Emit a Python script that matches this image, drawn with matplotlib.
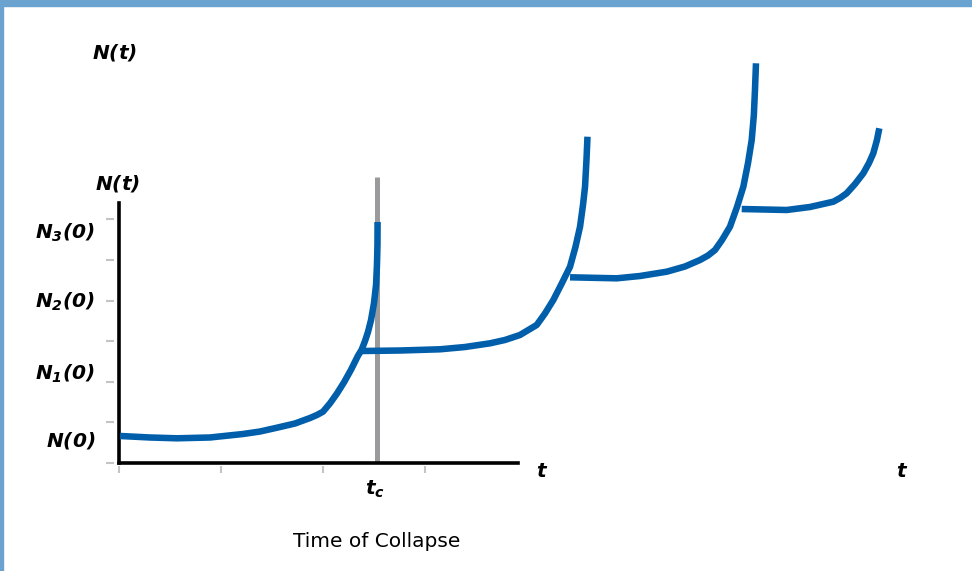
import matplotlib
matplotlib.use("Agg")
import matplotlib.pyplot as plt
from matplotlib.patches import Rectangle

plt.rcParams['font.family'] = ['DejaVu Sans']
plt.rcParams['mathtext.fontset'] = 'custom'
plt.rcParams['mathtext.it'] = 'DejaVu Sans:italic:bold'
plt.rcParams['mathtext.rm'] = 'DejaVu Sans:italic:bold'
plt.rcParams['mathtext.bf'] = 'DejaVu Sans:italic:bold'

# ---- data (time units on x, N units on y) ----
seg1_t = [0.010, 0.304, 0.569, 0.892, 1.216, 1.382, 1.549, 1.725, 1.873, 1.941,
          2.000, 2.069, 2.137, 2.206, 2.275, 2.343, 2.379, 2.412, 2.441, 2.471,
          2.500, 2.520, 2.529, 2.534, 2.535]
seg1_n = [0.665, 0.628, 0.608, 0.628, 0.714, 0.775, 0.869, 0.972, 1.108, 1.182,
          1.263, 1.470, 1.711, 1.986, 2.297, 2.641, 2.789, 3.003, 3.225, 3.520,
          3.938, 4.382, 4.874, 5.366, 5.932]

seg2_t = [2.379, 2.755, 3.147, 3.392, 3.637, 3.784, 3.931, 4.095, 4.176, 4.258,
          4.338, 4.422, 4.475, 4.520, 4.549, 4.569, 4.583, 4.593]
seg2_n = [2.757, 2.769, 2.799, 2.855, 2.946, 3.028, 3.151, 3.397, 3.680, 4.012,
          4.406, 4.832, 5.317, 5.817, 6.351, 6.801, 7.458, 8.032]

seg3_t = [4.422, 4.879, 5.108, 5.370, 5.549, 5.696, 5.775, 5.843, 5.912, 5.990,
          6.059, 6.121, 6.167, 6.203, 6.224, 6.235, 6.245]
seg3_n = [4.571, 4.546, 4.603, 4.709, 4.837, 4.997, 5.108, 5.243, 5.489, 5.817,
          6.302, 6.801, 7.385, 7.951, 8.566, 9.182, 9.839]

seg4_t = [6.105, 6.546, 6.775, 7.003, 7.069, 7.134, 7.216, 7.297, 7.353, 7.395,
          7.431, 7.454]
seg4_n = [6.252, 6.228, 6.302, 6.432, 6.523, 6.639, 6.868, 7.131, 7.385, 7.623,
          7.951, 8.239]

segments = [(seg1_t, seg1_n), (seg2_t, seg2_n), (seg3_t, seg3_n), (seg4_t, seg4_n)]

t_collapse = 2.53
collapse_line_top = 7.04

x_ticks = [0, 1, 2, 3]
y_ticks = [0, 1, 2, 3, 4, 5, 6]
y_labels = [r'$N(0)$', r'$N_1(0)$', r'$N_2(0)$', r'$N_3(0)$']
y_label_pos = [0.40, 2.04, 3.82, 5.53]

BLUE = '#005eaa'
GRAY = '#9a9a9c'
TICK = '#c4c4c4'
FRAME = '#6ba3d0'

# ---- figure ----
fig = plt.figure(figsize=(9.72, 5.71), dpi=100)
fig.patches.append(Rectangle((0, 1 - 6 / 571), 1, 6 / 571, transform=fig.transFigure,
                             color=FRAME, zorder=0))
fig.patches.append(Rectangle((0, 0), 3 / 972, 1, transform=fig.transFigure,
                             color=FRAME, zorder=0))

ax = fig.add_axes([119 / 972, 108 / 571, 399 / 972, 260 / 571])
ax.set_xlim(0, 399 / 102)
ax.set_ylim(0, 6.4)
ax.patch.set_alpha(0)

for s in ['top', 'right']:
    ax.spines[s].set_visible(False)
ax.spines['left'].set_position(('outward', 3.6))
ax.spines['bottom'].set_position(('outward', 2.4))
ax.spines['left'].set_visible(False)
ax.spines['bottom'].set_visible(False)

ax.set_xticks(x_ticks)
ax.set_yticks(y_ticks)
ax.set_xticklabels([])
ax.set_yticklabels([])
ax.tick_params(axis='y', direction='out', length=5.5, width=1.5, color=TICK)
ax.tick_params(axis='x', direction='out', length=5, width=1.5, color=TICK)

# axis lines
ax.axvline(0, color='black', lw=2.6, solid_capstyle='projecting', zorder=3, clip_on=False)
ax.axhline(0, color='black', lw=2.6, solid_capstyle='projecting', zorder=3, clip_on=False)

# collapse line
ax.vlines(t_collapse, 0, collapse_line_top, color=GRAY, lw=3.6, zorder=2, clip_on=False)

# curves
for t, n in segments:
    ax.plot(t, n, color=BLUE, lw=4.7, solid_capstyle='butt', solid_joinstyle='round',
            zorder=4, clip_on=False)

# labels
for lab, yp in zip(y_labels, y_label_pos):
    ax.text(-0.235, yp, lab, ha='right', va='baseline', fontsize=14.5)

ax.text(-0.049, 9.96, r'$N(t)$', ha='center', va='baseline', fontsize=14.5)
ax.text(-0.01, 6.72, r'$N(t)$', ha='center', va='baseline', fontsize=14.5)
ax.text(4.144, -0.337, r'$t$', ha='center', va='baseline', fontsize=14.5)
ax.text(7.673, -0.337, r'$t$', ha='center', va='baseline', fontsize=14.5)
ax.text(2.505, -0.788, r'$t_c$', ha='center', va='baseline', fontsize=14.5)
ax.text(2.53, -2.06, 'Time of Collapse', ha='center', va='baseline', fontsize=14.5,
        color='#000000')

fig.savefig('out.png', dpi=100)
